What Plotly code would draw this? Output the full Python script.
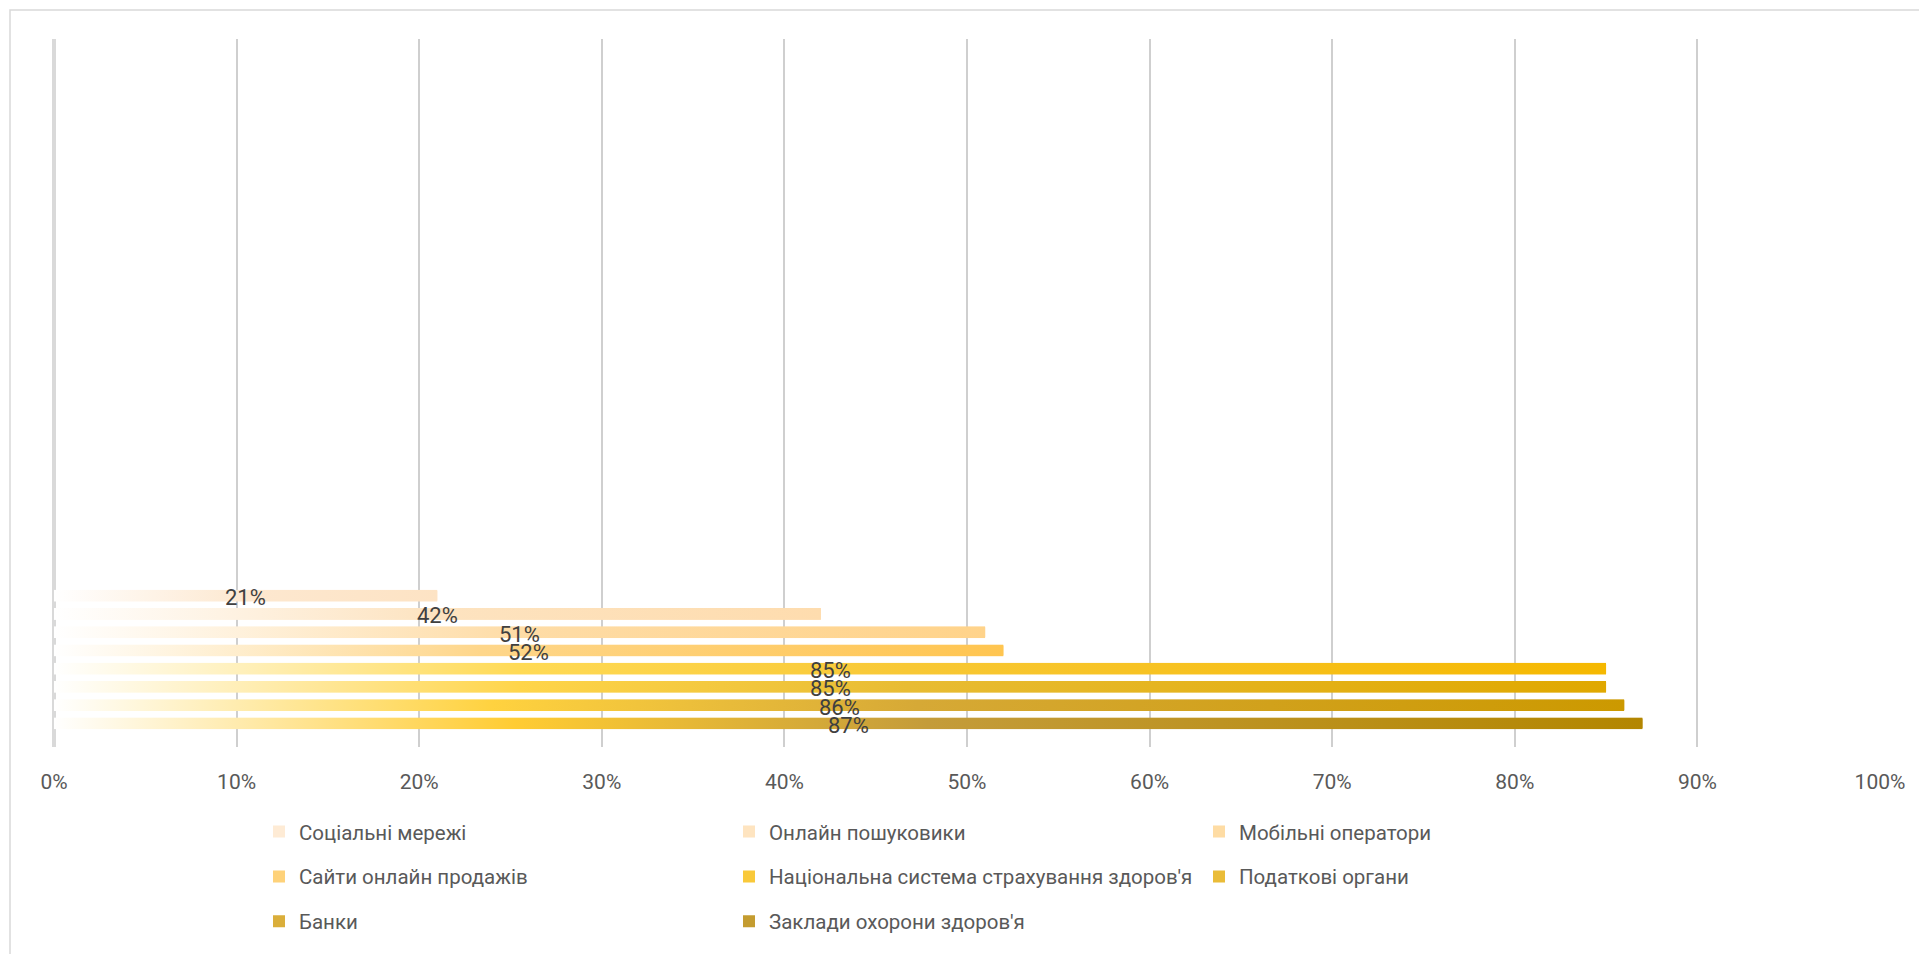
import base64
import plotly.graph_objects as go

# ---------------- data ----------------
series_names = [
    "Соціальні мережі",
    "Онлайн пошуковики",
    "Мобільні оператори",
    "Сайти онлайн продажів",
    "Національна система страхування здоров'я",
    "Податкові органи",
    "Банки",
    "Заклади охорони здоров'я",
]
series_values = [21, 42, 51, 52, 85, 85, 86, 87]
category = ["Довіра"]
x_ticks = list(range(0, 101, 10))
x_tick_labels = [f"{t}%" for t in x_ticks]

# ---------------- styles ----------------
legend_colors = ["#FEEBD5", "#FEE4C0", "#FEDCA4", "#FED27A",
                 "#F9C93A", "#EABC38", "#DAAE3A", "#C49C30"]
gradient_stops = [
    [(0, "#FFFFFF"), (0.5, "#FDE8D0"), (1, "#FDE3C4")],
    [(0, "#FFFFFF"), (0.5, "#FDE3C0"), (1, "#FEDCAE")],
    [(0, "#FFFFFF"), (0.5, "#FEDCA6"), (1, "#FFD38A")],
    [(0, "#FFFFFF"), (0.45, "#FED68A"), (1, "#FFC550")],
    [(0, "#FFFFFF"), (0.3, "#FFDA55"), (0.55, "#F8C835"), (1, "#F5B800")],
    [(0, "#FFFFFF"), (0.3, "#FFD54A"), (0.55, "#E8BC33"), (1, "#E0A800")],
    [(0, "#FFFFFF"), (0.28, "#FFD23F"), (0.55, "#D6A936"), (1, "#CC9900")],
    [(0, "#FFFFFF"), (0.29, "#FFCC33"), (0.55, "#C49C3A"), (1, "#B38600")],
]
legend_of = ["legend", "legend", "legend",
             "legend2", "legend2", "legend2",
             "legend3", "legend3"]

W, H = 1919, 954
ML, MR, MT, MB = 54, 39, 39, 205
PW, PH = W - ML - MR, H - MT - MB

n = len(series_values)
slot = 1.0 / n
slot_px = 18.29
px = slot / slot_px               # one pixel in y-axis units
bar_w = 12 * px                   # visible (gradient) bar thickness
y_bottom = 0.5995
y_top = y_bottom - PH * px


def svg_gradient(stops):
    st = "".join(
        f'<stop offset="{o}" stop-color="{c}"/>' for o, c in stops)
    svg = (
        '<svg xmlns="http://www.w3.org/2000/svg" width="200" height="20" '
        'viewBox="0 0 200 20" preserveAspectRatio="none">'
        f'<defs><linearGradient id="g" x1="0" y1="0" x2="1" y2="0">{st}'
        '</linearGradient></defs>'
        '<rect x="0" y="0" width="200" height="20" fill="url(#g)"/></svg>'
    )
    return "data:image/svg+xml;base64," + base64.b64encode(svg.encode()).decode()


fig = go.Figure()
images = []
annotations = []
font_family = "Roboto, 'Liberation Sans', sans-serif"

for i, (name, val) in enumerate(zip(series_names, series_values)):
    offset = -0.5 + i * slot + (slot - bar_w) / 2
    center = offset + bar_w / 2
    # underlying bar (slightly thinner so the gradient overlay covers it)
    fig.add_trace(go.Bar(
        y=category, x=[val], name=name, orientation="h",
        width=bar_w - 2 * px, offset=offset + px,
        marker=dict(color=legend_colors[i], line=dict(width=0)),
        legend=legend_of[i], hoverinfo="name+x",
    ))
    images.append(dict(
        source=svg_gradient(gradient_stops[i]),
        xref="x", yref="y", x=0, y=center,
        sizex=val, sizey=bar_w, xanchor="left", yanchor="middle",
        sizing="stretch", layer="above",
    ))
    annotations.append(dict(
        x=val / 2, y=center, xref="x", yref="y", text=f"{val}%",
        showarrow=False, yshift=-2,
        font=dict(family=font_family, size=22, color="#404040"),
    ))

legend_common = dict(
    orientation="h", xanchor="left", yanchor="middle",
    entrywidth=425, entrywidthmode="pixels",
    font=dict(family=font_family, size=20.5, color="#595959"),
    bgcolor="rgba(0,0,0,0)", borderwidth=0, itemclick=False,
)
leg_x = (259 - ML) / PW
row_y = [834, 879, 924]

fig.update_layout(
    width=W, height=H,
    margin=dict(l=ML, r=MR, t=MT, b=MB, pad=0),
    paper_bgcolor="white", plot_bgcolor="white",
    barmode="overlay",
    showlegend=True,
    legend=dict(legend_common, x=leg_x, y=(MT + PH - row_y[0]) / PH),
    legend2=dict(legend_common, x=leg_x, y=(MT + PH - row_y[1]) / PH),
    legend3=dict(legend_common, x=leg_x, y=(MT + PH - row_y[2]) / PH),
    xaxis=dict(
        range=[0, 100], tickvals=x_ticks, ticktext=x_tick_labels,
        showgrid=True, gridcolor="#cfcfcf", gridwidth=1.5,
        zeroline=True, zerolinecolor="#d9d9d9", zerolinewidth=4,
        showline=False, ticks="", ticklabelstandoff=20,
        tickfont=dict(family=font_family, size=21, color="#595959"),
        fixedrange=True,
    ),
    yaxis=dict(
        type="category", range=[y_bottom, y_top],
        showgrid=False, zeroline=False, showticklabels=False, ticks="",
        showline=False, fixedrange=True,
    ),
    images=images,
    annotations=annotations,
    shapes=[dict(
        type="rect", xref="paper", yref="paper",
        x0=(10 - ML) / PW, x1=1.2, y0=-0.4, y1=(MT + PH - 10) / PH,
        line=dict(color="#d9d9d9", width=1.5), fillcolor="rgba(0,0,0,0)",
        layer="below",
    )],
)

fig.write_html("out.html")
